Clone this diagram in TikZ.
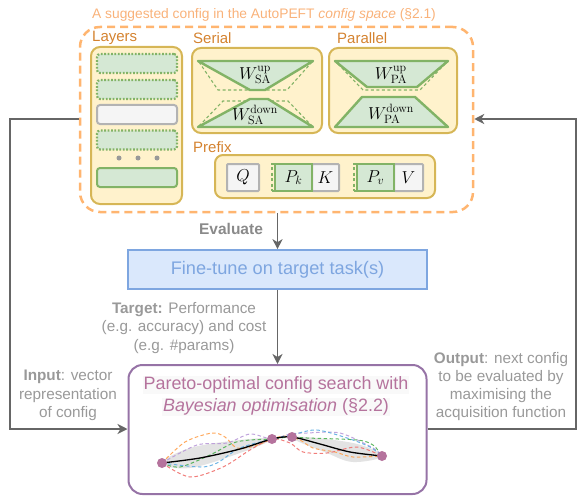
\documentclass[tikz,border=0pt]{standalone}
\usepackage[no-math]{fontspec}
\setmainfont{Liberation Sans}
\usetikzlibrary{arrows.meta}
\definecolor{titleor}{HTML}{F9B27A}
\definecolor{spaceor}{HTML}{FFB570}
\definecolor{lblor}{HTML}{D4822F}
\definecolor{yfill}{HTML}{FFF2CC}
\definecolor{yedge}{HTML}{D6B656}
\definecolor{gfill}{HTML}{D5E8D4}
\definecolor{gedge}{HTML}{82B366}
\definecolor{grfill}{HTML}{F5F5F5}
\definecolor{gredge}{HTML}{B3B3B3}
\definecolor{bfill}{HTML}{DAE8FC}
\definecolor{bedge}{HTML}{7EA6E0}
\definecolor{btext}{HTML}{7EA6E0}
\definecolor{pedge}{HTML}{9673A6}
\definecolor{ptext}{HTML}{B5739D}
\definecolor{conngray}{HTML}{666666}
\definecolor{txtgray}{HTML}{999999}
\definecolor{dotgray}{HTML}{999999}
\definecolor{bandgray}{HTML}{E3E3E3}
\definecolor{gporange}{HTML}{FF9F4A}
\definecolor{gppurple}{HTML}{B99AD8}
\definecolor{gpgreen}{HTML}{4CAF50}
\definecolor{gpblue}{HTML}{5DADE2}
\definecolor{gpred}{HTML}{EF6F6C}
\begin{document}
\begin{tikzpicture}[x=1pt,y=-1pt,
  ybox/.style={draw=yedge, fill=yfill, line width=2pt, rounded corners=9pt, inner sep=0pt},
  gsolid/.style={draw=gedge, fill=gfill, line width=2pt, rounded corners=3pt, inner sep=0pt},
  gdots/.style={draw=gedge, fill=gfill, line width=2.2pt, dash pattern=on 1.8pt off 1.6pt, rounded corners=3pt, inner sep=0pt},
  grbox/.style={draw=gredge, fill=grfill, line width=2pt, rounded corners=1pt, inner sep=0pt},
  gpbox/.style={draw=gedge, fill=gfill, line width=2pt, inner sep=0pt},
  trap/.style={draw=gedge, fill=gfill, line width=2.4pt, line join=round},
  trapdash/.style={draw=gedge, line width=1.1pt, dash pattern=on 3pt off 2.5pt},
  lbl/.style={font=\fontsize{15}{18}\selectfont, text=lblor, inner sep=0pt},
  mathlbl/.style={font=\fontsize{17}{20}\selectfont, inner sep=0pt},
  graytxt/.style={font=\fontsize{15.3}{18.6}\selectfont, text=txtgray, align=center, inner sep=0pt},
  connline/.style={draw=conngray, line width=1.8pt},
  conn/.style={connline, -{Stealth[length=10pt,width=10pt,inset=3pt]}},
  gp/.style={line width=1pt, dash pattern=on 3.5pt off 2.5pt, opacity=0.9},
  gpdot/.style={circle, fill=ptext, minimum size=10pt, inner sep=0pt}
]
\useasboundingbox (0,0) rectangle (580,500);

% config space
\node[draw=spaceor, line width=2.5pt, dash pattern=on 8pt off 5pt, rounded corners=20pt,
      minimum width=393pt, minimum height=185pt, inner sep=0pt] (space) at (276.5,119.5) {};
\node[font=\fontsize{13.8}{16}\selectfont, text=titleor, inner sep=0pt] (title) at (264,15)
  {A suggested config in the AutoPEFT \textit{config space} (§2.1)};

% Layers
\node[ybox, minimum width=91pt, minimum height=157pt] (layers) at (136.5,125.5) {};
\node[lbl, anchor=west] (layerslbl) at (92,38) {Layers};
\node[gdots, minimum width=80pt, minimum height=19pt] (l1) at (137,63.5) {};
\node[gdots, minimum width=80pt, minimum height=19pt] (l2) at (137,89.5) {};
\node[grbox, rounded corners=3pt, minimum width=80pt, minimum height=19pt] (l3) at (137,114.5) {};
\node[gdots, minimum width=80pt, minimum height=19pt] (l4) at (137,140) {};
\node[circle, fill=dotgray, minimum size=5pt, inner sep=0pt] (d1) at (119,158) {};
\node[circle, fill=dotgray, minimum size=5pt, inner sep=0pt] (d2) at (138,158) {};
\node[circle, fill=dotgray, minimum size=5pt, inner sep=0pt] (d3) at (157,158) {};
\node[gsolid, minimum width=80pt, minimum height=19pt] (l5) at (137,177.5) {};

% Serial
\node[ybox, minimum width=130pt, minimum height=85pt] (serial) at (257,90.5) {};
\node[lbl, anchor=west] (seriallbl) at (193,38) {Serial};
\draw[trapdash] (199,62) -- (218,90) -- (287,90) -- (312,62);
\draw[trapdash] (199,126) -- (223,101) -- (288,101) -- (312,126);
\filldraw[trap] (198,61) -- (313,61) -- (265,90) -- (250,90) -- cycle;
\filldraw[trap] (198,127) -- (313,127) -- (268,99) -- (250,99) -- cycle;
\node[mathlbl] (wsaup) at (255,75) {$W^{\mathrm{up}}_{\mathrm{SA}}$};
\node[mathlbl] (wsadown) at (255,115) {$W^{\mathrm{down}}_{\mathrm{SA}}$};

% Parallel
\node[ybox, minimum width=128pt, minimum height=85pt] (parallel) at (393,90.5) {};
\node[lbl, anchor=west] (parallellbl) at (337,38) {Parallel};
\draw[trapdash] (338,64) -- (363,90) -- (420,90) -- (445,64);
\draw[trapdash] (338,125) -- (362,100) -- (418,100) -- (446,125);
\filldraw[trap] (335,61) -- (448,61) -- (417,87) -- (367,87) -- cycle;
\filldraw[trap] (335,127) -- (448,127) -- (415,97) -- (362,97) -- cycle;
\node[mathlbl] (wpaup) at (391,75) {$W^{\mathrm{up}}_{\mathrm{PA}}$};
\node[mathlbl] (wpadown) at (391,114) {$W^{\mathrm{down}}_{\mathrm{PA}}$};

% Prefix
\node[lbl, anchor=west] (prefixlbl) at (193,147) {Prefix};
\node[ybox, rounded corners=8pt, minimum width=220pt, minimum height=43pt] (prefix) at (325,176.5) {};
\node[grbox, mathlbl, minimum width=32pt, minimum height=27pt] (q) at (243,177.5) {$Q$};
\node[grbox, mathlbl, minimum width=27pt, minimum height=27pt] (k) at (325.5,177.5) {$K$};
\node[draw=gedge, line width=1.1pt, dash pattern=on 3pt off 2.5pt, minimum width=40pt, minimum height=27pt, inner sep=0pt] (pkd) at (292,177.5) {};
\node[gpbox, mathlbl, minimum width=37pt, minimum height=27pt] (pk) at (293.5,177.5) {$P_k$};
\node[grbox, mathlbl, minimum width=29pt, minimum height=27pt] (v) at (408.5,177.5) {$V$};
\node[draw=gedge, line width=1.1pt, dash pattern=on 3pt off 2.5pt, minimum width=40pt, minimum height=27pt, inner sep=0pt] (pvd) at (374,177.5) {};
\node[gpbox, mathlbl, minimum width=37pt, minimum height=27pt] (pv) at (375.5,177.5) {$P_v$};

% Evaluate + fine-tune
\node[font=\fontsize{15.5}{18}\selectfont\bfseries, text=txtgray!90!black, inner sep=0pt] (evaluate) at (231,229) {Evaluate};
\node[draw=bedge, fill=bfill, line width=1.6pt, minimum width=299pt, minimum height=39pt, inner sep=0pt,
      font=\fontsize{18.2}{21}\selectfont, text=btext] (fine) at (277.5,269.5) {Fine-tune on target task(s)};
\draw[conn] (space.south -| fine.north) -- (fine.north);

\node[graytxt] (target) at (184,328) {\textbf{Target:} Performance\\(e.g. accuracy) and cost\\(e.g. \#params)};

% Pareto box
\node[draw=pedge, line width=2pt, rounded corners=14pt, minimum width=298pt, minimum height=129pt, inner sep=0pt] (pareto) at (277.5,429.5) {};
\node[font=\fontsize{17.9}{21}\selectfont, text=ptext, fill=grfill!60, inner sep=1pt] (bo1) at (276,385) {Pareto-optimal config search with};
\node[font=\fontsize{17.9}{21}\selectfont, text=ptext, fill=grfill!60, inner sep=1pt] (bo2) at (276,407) {\textit{Bayesian optimisation} (§2.2)};
\draw[conn] (fine.south) -- (fine.south |- pareto.north);

% GP illustration
\fill[bandgray] plot[smooth cycle, tension=0.6] coordinates {(162,463) (190,448) (240,440) (272,439) (240,453) (190,468)};
\fill[bandgray] plot[smooth cycle, tension=0.6] coordinates {(292,437) (353,443) (382,456) (353,462) (327,453)};
\draw[gp, gporange] plot[smooth] coordinates {(162,463) (185,442) (212,433) (225,437) (237,448) (255,446) (272,439) (285,436) (300,440) (313,448) (335,452) (353,457) (382,456)};
\draw[gp, gppurple] plot[smooth] coordinates {(162,463) (197,445) (227,443) (250,434) (272,439) (290,434) (307,433) (340,433) (373,448) (382,456)};
\draw[gp, gpgreen] plot[smooth] coordinates {(162,463) (180,467) (210,455) (233,443) (250,440) (272,439) (290,437) (307,438) (357,440) (373,445) (382,456)};
\draw[gp, gpblue] plot[smooth] coordinates {(162,463) (200,467) (217,463) (240,448) (272,439) (295,434) (317,430) (347,438) (370,447) (382,456)};
\draw[gp, gpred] plot[smooth] coordinates {(162,463) (190,477) (223,467) (250,450) (272,439) (290,443) (303,452) (327,453) (357,447) (382,456)};
\draw[black, line width=1.3pt] plot[smooth] coordinates {(162,463) (200,458) (240,449) (272,439) (292,437) (320,444) (350,452) (382,456)};
\node[gpdot] (p1) at (162,463) {};
\node[gpdot] (p2) at (272,439) {};
\node[gpdot] (p3) at (292,437) {};
\node[gpdot] (p4) at (382,456) {};

% feedback loop
\coordinate (lt) at (10,119);
\coordinate (lb) at (10,429);
\coordinate (rt) at (576,119);
\coordinate (rb) at (576,429);
\draw[conn] (space.west |- lt) -- (lt) -- (lb) -- (pareto.west |- lb);
\draw[conn] (pareto.east |- rb) -- (rb) -- (rt) -- (space.east |- rt);

\node[graytxt] (input) at (68,395.5) {\textbf{Input}: vector\\representation\\of config};
\node[graytxt, font=\fontsize{15.3}{18}\selectfont] (output) at (501,387) {\textbf{Output}: next config\\to be evaluated by\\maximising the\\acquisition function};
\end{tikzpicture}
\end{document}
